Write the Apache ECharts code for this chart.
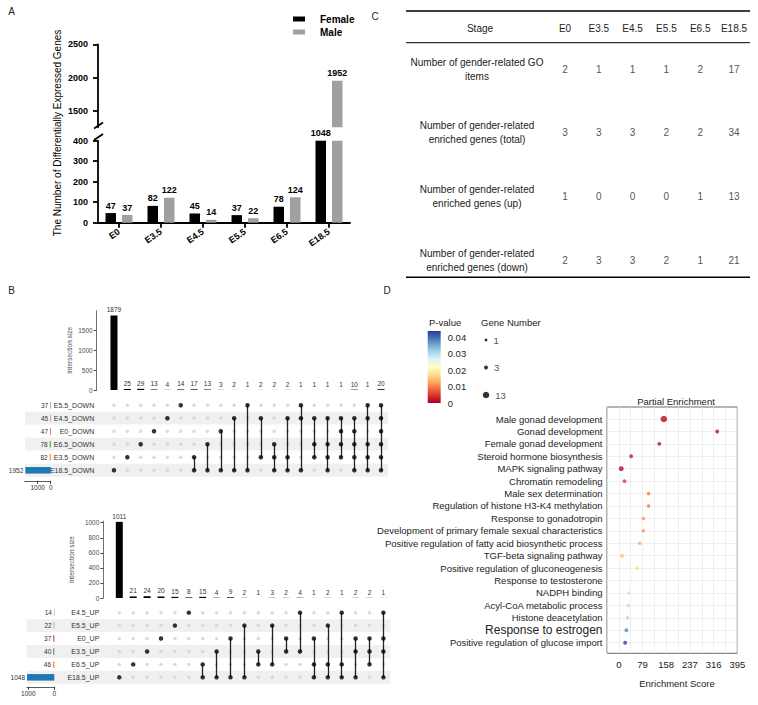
<!DOCTYPE html>
<html>
<head>
<meta charset="utf-8">
<script src="https://cdn.jsdelivr.net/npm/echarts@6/dist/echarts.min.js"></script>
<style>
  html, body { margin: 0; padding: 0; background: #fff; }
  #main { width: 758px; height: 705px; }
</style>
</head>
<body>
<div id="main"></div>
<script>
// ---- A: DEG counts per stage ----
var stages = ['E0', 'E3.5', 'E4.5', 'E5.5', 'E6.5', 'E18.5'];
var femaleDEG = [47, 82, 45, 37, 78, 1048];
var maleDEG = [37, 122, 14, 22, 124, 1952];
var lowerMax = 400;            // broken axis: lower part 0-400
var upperMin = 1250;           // upper part 1250-2500
var upperMax = 2500;
var upperTicks = [1500, 2000, 2500];

// ---- C: table ----
var tableRows = [
  'Number of gender-related GO\nitems',
  'Number of gender-related\nenriched genes (total)',
  'Number of gender-related\nenriched genes (up)',
  'Number of gender-related\nenriched genes (down)'
];
var goItems = [2, 1, 1, 1, 2, 17];
var enrichedTotal = [3, 3, 3, 2, 2, 34];
var enrichedUp = [1, 0, 0, 0, 1, 13];
var enrichedDown = [2, 3, 3, 2, 1, 21];

// ---- B: upset plots ----
var downSets = ['E5.5_DOWN', 'E4.5_DOWN', 'E0_DOWN', 'E6.5_DOWN', 'E3.5_DOWN', 'E18.5_DOWN'];
var downSetSizes = [37, 45, 47, 78, 82, 1952];
var downSizes = [1879, 25, 29, 13, 4, 14, 17, 13, 3, 2, 1, 2, 2, 2, 1, 1, 1, 1, 10, 1, 20];
var downMembers = [[5], [4], [3], [2], [1], [0], [4, 5], [3, 5], [2, 5], [1, 5], [0, 5], [1, 4],
  [3, 4, 5], [1, 4, 5], [0, 1, 5], [1, 3, 4], [1, 3, 4, 5], [1, 2, 3, 4], [1, 2, 3, 4, 5],
  [0, 1, 3, 4, 5], [0, 1, 2, 3, 4, 5]];

var upSets = ['E4.5_UP', 'E5.5_UP', 'E0_UP', 'E3.5_UP', 'E6.5_UP', 'E18.5_UP'];
var upSetSizes = [14, 22, 37, 40, 46, 1048];
var upSizes = [1011, 21, 24, 20, 15, 8, 15, 4, 9, 2, 1, 3, 2, 4, 1, 2, 1, 2, 2, 1];
var upMembers = [[5], [4], [3], [2], [1], [0], [4, 5], [3, 5], [2, 5], [1, 5], [3, 4], [1, 4],
  [2, 3], [0, 3], [2, 4, 5], [1, 4, 5], [0, 4, 5], [2, 3, 5], [2, 3, 4], [0, 2, 3, 5]];

// ---- D: enrichment ----
var terms = ['Male gonad development', 'Gonad development', 'Female gonad development',
  'Steroid hormone biosynthesis', 'MAPK signaling pathway', 'Chromatin remodeling',
  'Male sex determination', 'Regulation of histone H3-K4 methylation', 'Response to gonadotropin',
  'Development of primary female sexual characteristics',
  'Positive regulation of fatty acid biosynthetic process', 'TGF-beta signaling pathway',
  'Positive regulation of gluconeogenesis', 'Response to testosterone', 'NADPH binding',
  'Acyl-CoA metabolic process', 'Histone deacetylation', 'Response to estrogen',
  'Positive regulation of glucose import'];
var enrichScore = [150, 328, 135, 41, 8, 19, 99, 99, 82, 82, 70, 11, 61, 40, 33, 31, 29, 25, 21];
var pValue = [0.001, 0.002, 0.002, 0.003, 0.001, 0.005, 0.009, 0.009, 0.011, 0.011, 0.013, 0.015,
  0.017, 0.021, 0.029, 0.030, 0.031, 0.038, 0.043];
var geneNumber = [13, 3, 3, 3, 6, 3, 2, 2, 2, 2, 2, 3, 2, 1, 2, 2, 2, 3, 3];
var geneLegend = [1, 3, 13];
var pTicks = [0, 0.01, 0.02, 0.03, 0.04];
var pMax = 0.044;
var scoreLabels = [0, 79, 158, 237, 316, 395];
var BIG_TERM = 'Response to estrogen';

var FONT = '"Liberation Sans", Arial, sans-serif';
var SET_COLORS = ['#1f77b4', '#ff7f0e', '#2ca02c', '#d62728', '#9467bd', '#8c564b'];
var RDYLBU = ['#a50026', '#d73027', '#f46d43', '#fdae61', '#fee090', '#ffffbf',
  '#e0f3f8', '#abd9e9', '#74add1', '#4575b4', '#313695'];

function dotSize(n) { return 1.5 + 1.4 * Math.sqrt(n); }
function plain(v) { return String(v); }

var grids = [], xAxes = [], yAxes = [], series = [];
function addGrid(g, x, y) {
  var i = grids.length;
  grids.push(g);
  x.gridIndex = i;
  y.gridIndex = i;
  xAxes.push(x);
  yAxes.push(y);
  return i;
}

// ===== panel A =====
var aAxisLine = { show: true, lineStyle: { color: '#000', width: 1.8 } };
var aLabel = { fontSize: 9, fontWeight: 'bold', color: '#000', formatter: plain };

var gUp = addGrid({ left: 98, top: 44.3, width: 252, height: 83 },
  { type: 'category', data: stages, show: false },
  { type: 'value', min: upperMin, max: upperMax, axisLine: aAxisLine,
    axisTick: { show: true, length: 5, customValues: upperTicks, lineStyle: { width: 1.8 } },
    axisLabel: Object.assign({ customValues: upperTicks, margin: 10 }, aLabel),
    splitLine: { show: false } });
var gLow = addGrid({ left: 98, top: 140.7, width: 252, height: 82 },
  { type: 'category', data: stages, axisLine: aAxisLine,
    axisTick: { show: true, alignWithLabel: true, length: 5, interval: 0, lineStyle: { width: 1.8 } },
    axisLabel: { rotate: 35, margin: 8, interval: 0, fontSize: 9, fontWeight: 'bold', color: '#000' } },
  { type: 'value', min: 0, max: lowerMax, interval: 100, axisLine: aAxisLine,
    axisTick: { show: true, length: 5, lineStyle: { width: 1.8 } },
    axisLabel: Object.assign({ margin: 10 }, aLabel),
    splitLine: { show: false } });

function aSeries(name, vals, color) {
  var lbl = { show: true, position: 'top', distance: 3, fontSize: 9, fontWeight: 'bold', color: '#000' };
  series.push({
    name: name, type: 'bar', xAxisIndex: gLow, yAxisIndex: gLow, barWidth: 10.5, barGap: '57%',
    itemStyle: { color: color },
    data: vals.map(function (v) { return Math.min(v, lowerMax); }),
    label: Object.assign({}, lbl, { formatter: function (p) {
      var v = vals[p.dataIndex];
      return v > upperMin ? '' : String(v);
    } })
  });
  series.push({
    name: name, type: 'bar', xAxisIndex: gUp, yAxisIndex: gUp, barWidth: 10.5, barGap: '57%',
    itemStyle: { color: color },
    data: vals.map(function (v) { return v > upperMin ? v : '-'; }),
    label: Object.assign({}, lbl, { formatter: function (p) { return String(p.value); } })
  });
}
aSeries('Female', femaleDEG, '#000000');
aSeries('Male', maleDEG, '#a0a0a0');

// ===== panel C: table =====
var gTab = addGrid({ left: 565, top: 69.3, width: 169, height: 190.7 },
  { type: 'category', data: stages, position: 'top', boundaryGap: false,
    axisLine: { show: false }, axisTick: { show: false },
    axisLabel: { fontSize: 10, color: '#222', margin: 36, interval: 0 } },
  { type: 'category', data: tableRows, inverse: true, boundaryGap: false,
    axisLine: { show: false }, axisTick: { show: false },
    axisLabel: { fontSize: 10, color: '#222', align: 'center', margin: 88, lineHeight: 14, interval: 0 } });
var tableCells = [];
[goItems, enrichedTotal, enrichedUp, enrichedDown].forEach(function (row, r) {
  row.forEach(function (v, c) { tableCells.push([c, r, v]); });
});
series.push({
  type: 'scatter', xAxisIndex: gTab, yAxisIndex: gTab, data: tableCells, symbolSize: 1,
  itemStyle: { color: 'rgba(0,0,0,0)' }, silent: true,
  label: { show: true, position: 'inside', fontSize: 10, color: '#222',
    formatter: function (p) { return String(p.value[2]); } }
});

// ===== panel B: upset plots =====
function addUpset(sets, setSizes, sizes, members, L) {
  var cols = sizes.map(function (v, i) { return String(i + 1); });
  var gBar = addGrid({ left: L.colLeft, top: L.barTop, width: L.colWidth, height: L.barHeight },
    { type: 'category', data: cols, show: false },
    { type: 'value', min: 0, max: L.barMax, offset: L.axisOffset,
      name: 'Intersection size', nameLocation: 'middle', nameGap: L.nameGap,
      nameTextStyle: { fontSize: 6.5, color: '#4d4d4d' },
      axisLine: { show: true, lineStyle: { color: '#4d4d4d', width: 0.8 } },
      axisTick: { show: true, length: 3, customValues: L.barTicks },
      axisLabel: { customValues: L.barTicks, fontSize: 6.5, color: '#4d4d4d', margin: 4, formatter: plain },
      splitLine: { show: false } });
  series.push({ type: 'bar', xAxisIndex: gBar, yAxisIndex: gBar, data: sizes, barWidth: 7,
    itemStyle: { color: '#000' }, silent: true,
    label: { show: true, position: 'top', distance: 2, fontSize: 6.5, color: '#333' } });

  addGrid({ left: L.bandLeft, top: L.matTop, width: L.bandWidth, height: L.matHeight },
    { type: 'value', show: false },
    { type: 'category', data: sets, inverse: true,
      axisLine: { show: false }, axisTick: { show: false, interval: 0 },
      axisLabel: { show: false, interval: 0 },
      splitLine: { show: false },
      splitArea: { show: true, interval: 0, areaStyle: { color: ['#ffffff', '#f0f0f0'] } } });

  var gMat = addGrid({ left: L.colLeft, top: L.matTop, width: L.colWidth, height: L.matHeight },
    { type: 'category', data: cols, show: false },
    { type: 'category', data: sets, inverse: true,
      axisLine: { show: false }, axisTick: { show: false },
      axisLabel: { fontSize: 7, color: '#333', margin: L.nameMargin, interval: 0 } });
  var grey = [], black = [], links = [];
  members.forEach(function (m, c) {
    sets.forEach(function (s, r) { if (m.indexOf(r) < 0) grey.push([c, r]); });
    m.forEach(function (r) { black.push([c, r]); });
    if (m.length > 1) {
      links.push({ coords: [[c, Math.min.apply(null, m)], [c, Math.max.apply(null, m)]] });
    }
  });
  series.push({ type: 'scatter', xAxisIndex: gMat, yAxisIndex: gMat, data: grey, symbolSize: 3.5,
    itemStyle: { color: '#d2d2d2' }, silent: true, z: 2 });
  series.push({ type: 'lines', coordinateSystem: 'cartesian2d', xAxisIndex: gMat, yAxisIndex: gMat,
    data: links, lineStyle: { color: '#222', width: 1.3, opacity: 1 }, silent: true, z: 3 });
  series.push({ type: 'scatter', xAxisIndex: gMat, yAxisIndex: gMat, data: black, symbolSize: 4.5,
    itemStyle: { color: '#000' }, silent: true, z: 4 });

  var gSize = addGrid({ left: L.sizeLeft, top: L.matTop, width: L.sizeWidth, height: L.matHeight },
    { type: 'value', inverse: true, min: 0, max: L.sizeMax, offset: L.sizeOffset,
      axisLine: { show: true, lineStyle: { color: '#333', width: 0.8 } },
      axisTick: { show: true, length: 3, customValues: [0, 1000] },
      axisLabel: { customValues: [0, 1000], fontSize: 6.5, color: '#333', margin: 3, formatter: plain },
      splitLine: { show: false } },
    { type: 'category', data: sets, inverse: true, show: false });
  series.push({ type: 'bar', xAxisIndex: gSize, yAxisIndex: gSize, barWidth: 6.5, silent: true,
    data: setSizes.map(function (v, r) {
      return { value: v, itemStyle: { color: SET_COLORS[sets.length - 1 - r] } };
    }),
    label: { show: true, position: 'left', distance: 2, fontSize: 6.5, color: '#333' } });
}

addUpset(downSets, downSetSizes, downSizes, downMembers, {
  colLeft: 107.3, colWidth: 280.4, barTop: 310.7, barHeight: 79.3, barMax: 2000,
  barTicks: [0, 500, 1000, 1500], axisOffset: 10.6, nameGap: 24,
  matTop: 398.8, matHeight: 78, nameMargin: 13,
  bandLeft: 25, bandWidth: 363,
  sizeLeft: 24.7, sizeWidth: 26, sizeMax: 2000, sizeOffset: 4
});
addUpset(upSets, upSetSizes, upSizes, upMembers, {
  colLeft: 112.35, colWidth: 278, barTop: 521.2, barHeight: 76.8, barMax: 1020,
  barTicks: [0, 200, 400, 600, 800, 1000], axisOffset: 9, nameGap: 28,
  matTop: 606.2, matHeight: 77.6, nameMargin: 13,
  bandLeft: 26.7, bandWidth: 363.6,
  sizeLeft: 27, sizeWidth: 27.3, sizeMax: 1050, sizeOffset: 3
});

// ===== panel D =====
var scoreStep = 39.5;
addGrid({ left: 607, top: 407, width: 130.3, height: 246.3, show: true,
    borderColor: '#444', borderWidth: 0.8, backgroundColor: 'transparent' },
  { type: 'value', min: -scoreStep, max: 395, interval: scoreStep,
    axisLine: { show: false }, axisTick: { show: false },
    splitLine: { show: true, lineStyle: { color: '#e8e8e8', width: 0.7 } },
    axisLabel: { fontSize: 9.5, color: '#222', margin: 6, showMinLabel: true, showMaxLabel: true,
      formatter: function (v) {
        var r = Math.round(v);
        return scoreLabels.indexOf(r) >= 0 ? String(r) : '';
      } } },
  { type: 'value', show: false });

var gDot = addGrid({ left: 607, top: 419, width: 130.3, height: 223.7 },
  { type: 'value', min: -scoreStep, max: 395, show: false },
  { type: 'category', data: terms, inverse: true, boundaryGap: false,
    axisLine: { show: false }, axisTick: { show: false, interval: 0 },
    splitLine: { show: true, interval: 0, lineStyle: { color: '#e8e8e8', width: 0.7 } },
    axisLabel: { fontSize: 9.5, color: '#222', margin: 4.5, interval: 0,
      formatter: function (n) { return n === BIG_TERM ? '{big|' + n + '}' : n; },
      rich: { big: { fontSize: 12, color: '#222' } } } });
var dIndex = series.length;
series.push({ type: 'scatter', xAxisIndex: gDot, yAxisIndex: gDot, silent: true,
  data: terms.map(function (t, i) { return [enrichScore[i], i, pValue[i], geneNumber[i]]; }),
  encode: { x: 0, y: 1 },
  symbolSize: function (v) { return dotSize(v[3]); } });

var gBar = addGrid({ left: 427.7, top: 331, width: 13, height: 72 },
  { type: 'category', data: [''], show: false },
  { type: 'value', min: 0, max: pMax, interval: 0.01, position: 'right',
    axisLine: { show: false }, axisTick: { show: false }, splitLine: { show: false },
    axisLabel: { fontSize: 9.5, color: '#222', margin: 7, showMaxLabel: false,
      formatter: function (v) {
        for (var i = 0; i < pTicks.length; i++) {
          if (Math.abs(v - pTicks[i]) < 1e-9) return pTicks[i] === 0 ? '0' : pTicks[i].toFixed(2);
        }
        return '';
      } } });
series.push({ type: 'bar', xAxisIndex: gBar, yAxisIndex: gBar, data: [pMax], barWidth: '100%',
  silent: true,
  itemStyle: { color: new echarts.graphic.LinearGradient(0, 1, 0, 0, RDYLBU.map(function (c, i) {
    return { offset: i / (RDYLBU.length - 1), color: c };
  })) } });

var gLeg = addGrid({ left: 483, top: 340, width: 6, height: 55 },
  { type: 'value', min: -1, max: 1, show: false },
  { type: 'category', data: geneLegend.map(String), inverse: true, boundaryGap: false, show: false });
series.push({ type: 'scatter', xAxisIndex: gLeg, yAxisIndex: gLeg, silent: true,
  data: geneLegend.map(function (g, i) { return [0, i, g]; }),
  symbolSize: function (v) { return dotSize(v[2]); },
  itemStyle: { color: '#000' },
  label: { show: true, position: 'right', distance: 6, fontSize: 9.5, color: '#222',
    formatter: function (p) { return String(p.value[2]); } } });

// ===== text and rules =====
function txt(x, y, s, size, opt) {
  opt = opt || {};
  var font = (opt.weight ? opt.weight + ' ' : '') + size + 'px ' + FONT;
  return { type: 'text', x: x, y: y, rotation: opt.rotation || 0, silent: true,
    style: { text: s, font: font, fill: opt.color || '#222',
      align: opt.align || 'center', textAlign: opt.align || 'center',
      verticalAlign: 'middle', textVerticalAlign: 'middle' } };
}
function rule(x1, y1, x2, y2, w) {
  return { type: 'line', silent: true, shape: { x1: x1, y1: y1, x2: x2, y2: y2 },
    style: { stroke: '#000', lineWidth: w } };
}

var graphics = [
  txt(11.7, 11.7, 'A', 10), txt(375, 16, 'C', 10), txt(11.7, 290, 'B', 10), txt(387, 290, 'D', 10),
  txt(57, 133, 'The Number of Differentially Expressed Genes', 10, { rotation: Math.PI / 2, color: '#000' }),
  rule(94, 128.5, 103, 122.5, 1.8), rule(94, 140, 103, 134, 1.8),
  rule(406, 11, 750, 11, 1.6), rule(406, 42.7, 750, 42.7, 1), rule(406, 277.3, 750, 277.3, 1.6),
  txt(480, 28.3, 'Stage', 10),
  txt(429, 322, 'P-value', 9.5, { align: 'left' }),
  txt(481, 322, 'Gene Number', 9.5, { align: 'left' }),
  txt(676, 401.5, 'Partial Enrichment', 9.5),
  txt(677, 683, 'Enrichment Score', 9.5)
];

var chart = echarts.init(document.getElementById('main'), null, { renderer: 'svg' });
chart.setOption({
  animation: false,
  backgroundColor: '#fff',
  textStyle: { fontFamily: FONT },
  legend: { data: ['Female', 'Male'], orient: 'vertical', left: 288, top: 9, icon: 'rect',
    itemWidth: 12, itemHeight: 5, itemGap: 3, selectedMode: false,
    textStyle: { fontSize: 10, fontWeight: 'bold', color: '#000', padding: [0, 0, 0, 10] } },
  visualMap: [{ type: 'continuous', show: false, min: 0, max: pMax, dimension: 2,
    seriesIndex: dIndex, inRange: { color: RDYLBU } }],
  grid: grids,
  xAxis: xAxes,
  yAxis: yAxes,
  series: series,
  graphic: graphics
});
</script>
</body>
</html>
